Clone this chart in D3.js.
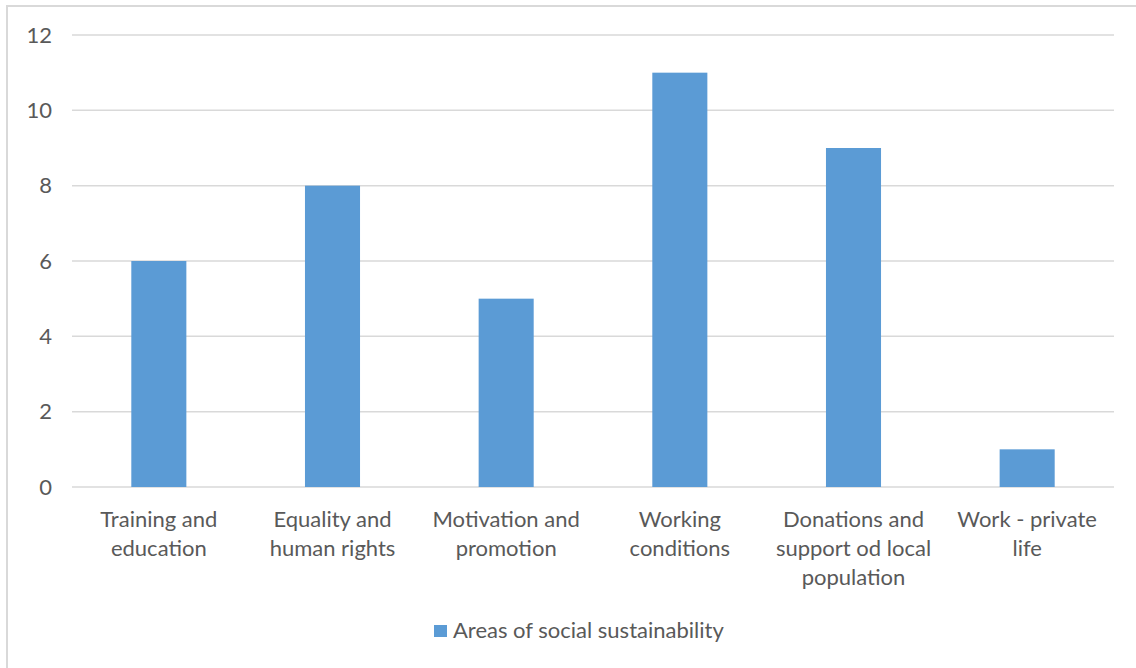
<!DOCTYPE html>
<html>
<head>
<meta charset="utf-8">
<script src="https://cdn.jsdelivr.net/npm/d3@7"></script>
<style>
  html, body { margin: 0; padding: 0; background: #fff; }
  svg { display: block; }
  text { font-family: Lato, "Open Sans", sans-serif; fill: #595959; }
</style>
</head>
<body>
<svg id="chart" width="1136" height="668"></svg>
<script>
const categories = [
  ["Training and", "education"],
  ["Equality and", "human rights"],
  ["Motivation and", "promotion"],
  ["Working", "conditions"],
  ["Donations and", "support od local", "population"],
  ["Work - private", "life"]
];
const values = [6, 8, 5, 11, 9, 1];
const yTicks = [0, 2, 4, 6, 8, 10, 12];
const seriesName = "Areas of social sustainability";

const svg = d3.select("#chart");
const W = 1136, H = 668;
const m = { left: 72, right: 22, top: 35, bottom: 181 };
const fs = "22px";

// chart frame
svg.append("rect")
  .attr("x", 7).attr("y", 6)
  .attr("width", W).attr("height", H)
  .attr("fill", "#fff")
  .attr("stroke", "#d9d9d9").attr("stroke-width", 2);

const x = d3.scaleBand()
  .domain(d3.range(categories.length))
  .range([m.left, W - m.right])
  .paddingInner(0.683).paddingOuter(0.3415);

const y = d3.scaleLinear().domain([0, 12]).range([H - m.bottom, m.top]);

// gridlines
svg.append("g")
  .selectAll("line").data(yTicks).join("line")
  .attr("x1", m.left).attr("x2", W - m.right)
  .attr("y1", d => y(d)).attr("y2", d => y(d))
  .attr("stroke", "#d9d9d9").attr("stroke-width", 1.5);

// y-axis labels
const yAxis = d3.axisLeft(y).tickValues(yTicks).tickSize(0).tickPadding(0);
const gy = svg.append("g").attr("transform", `translate(${m.left - 20},0)`).call(yAxis);
gy.select(".domain").remove();
gy.selectAll("text").style("font-size", fs).attr("fill", "#595959")
  .style("font-family", "Lato, 'Open Sans', sans-serif");

// bars
svg.append("g")
  .selectAll("rect").data(values).join("rect")
  .attr("x", (d, i) => x(i))
  .attr("width", x.bandwidth())
  .attr("y", d => y(d))
  .attr("height", d => y(0) - y(d))
  .attr("fill", "#5b9bd5");

// category labels
const labels = svg.append("g").selectAll("text").data(categories).join("text")
  .attr("text-anchor", "middle")
  .style("font-size", fs);
labels.each(function(lines, i) {
  const t = d3.select(this);
  lines.forEach((ln, k) => {
    t.append("tspan")
      .attr("x", x(i) + x.bandwidth() / 2)
      .attr("y", y(0) + 40 + k * 29)
      .text(ln);
  });
});

// legend
const lg = svg.append("g");
lg.append("rect").attr("x", 434).attr("y", 625).attr("width", 13).attr("height", 12).attr("fill", "#5b9bd5");
lg.append("text").attr("x", 453).attr("y", 638).style("font-size", fs).text(seriesName);
</script>
</body>
</html>
